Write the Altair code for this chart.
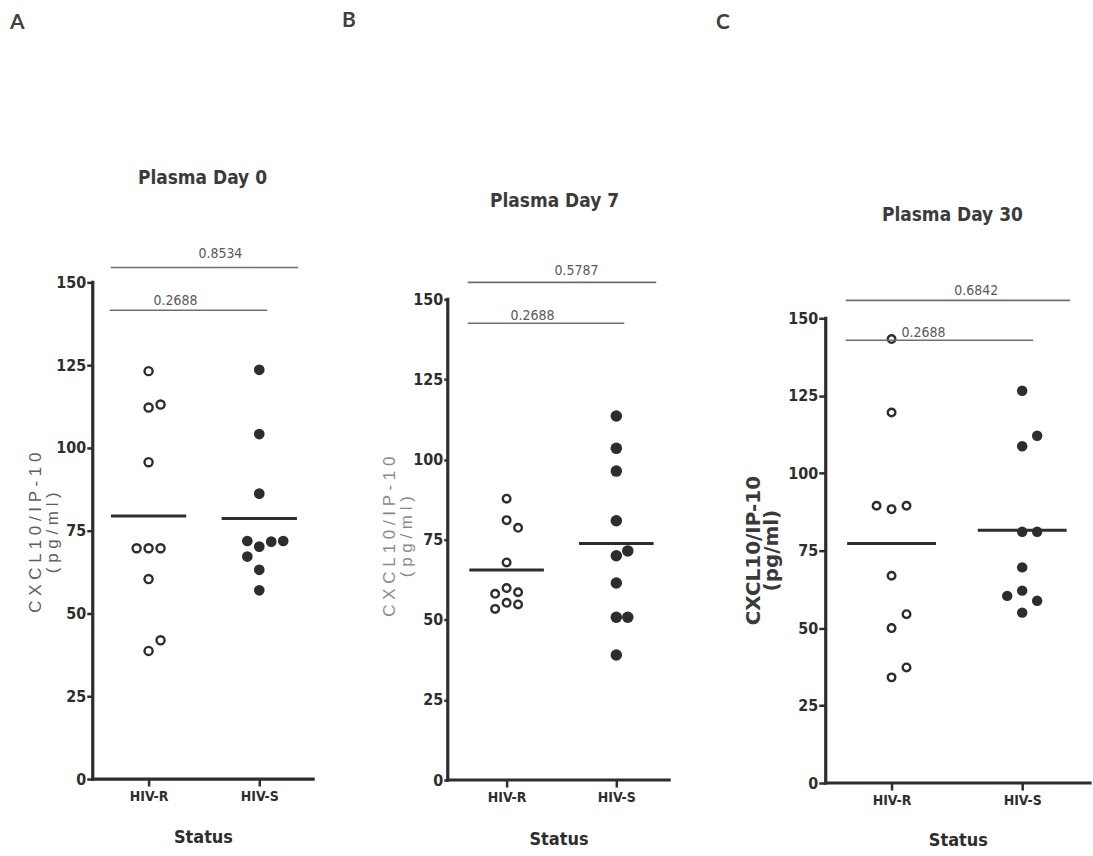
import altair as alt
import pandas as pd

# ---------------------------------------------------------------- data
groups = ["HIV-R", "HIV-S"]
panel_letters = ["A", "B", "C"]
panel_titles = ["Plasma Day 0", "Plasma Day 7", "Plasma Day 30"]

# CXCL10/IP-10 plasma levels (pg/ml), one value per subject
day0_hivr = [123.2, 112.2, 113.1, 95.7, 69.7, 69.7, 69.7, 60.4, 38.7, 41.9]
day0_hivs = [123.6, 104.2, 86.2, 70.2, 71.7, 71.9, 71.9, 67.2, 63.2, 57.0]
day7_hivr = [87.8, 81.1, 78.7, 67.9, 59.9, 58.6, 58.1, 55.3, 54.8, 53.4]
day7_hivs = [113.6, 103.5, 96.4, 80.9, 70.0, 71.5, 61.5, 50.8, 50.8, 39.0]
day30_hivr = [143.3, 119.6, 88.4, 89.5, 89.5, 66.9, 50.0, 54.5, 34.1, 37.3]
day30_hivs = [126.6, 108.7, 112.1, 81.1, 81.1, 69.6, 62.1, 58.8, 60.4, 55.0]

p_outer = ["0.8534", "0.5787", "0.6842"]
p_inner = ["0.2688", "0.2688", "0.2688"]
y_ticks = [0, 25, 50, 75, 100, 125, 150]

y_title_spaced = ["C X C L 1 0 / I P - 1 0", "( p g / m l )"]
y_title_plain = ["CXCL10/IP-10", "(pg/ml)"]

series = [(day0_hivr, day0_hivs), (day7_hivr, day7_hivs), (day30_hivr, day30_hivs)]

# ---------------------------------------------------------------- styling / geometry
NARROW = "DejaVu Sans Condensed, Liberation Sans Narrow, sans-serif"
LETTER_FONT = "Lato, Open Sans, sans-serif"
INK = "#2d2d2d"

# page geometry of each panel, in pixels
LAYOUT = [
    dict(left=92, right=448, zero=780, top=282, unit=111, origin=148, axis_end=313,
         dot_gap=12, tick=6, open_size=66, fill_size=115,
         outer=(110, 298, 267), inner=(109, 267, 310),
         outer_lbl=(220, 258), inner_lbl=(175, 305),
         title=(202, 177), letter=(9, 28), ytitle=(35, 52, 533),
         spaced=True, yfont="Liberation Sans, Arial, sans-serif",
         ycolor="#5e5e5e", yweight="normal", ysize=17, status_y=64),
    dict(left=448, right=827, zero=781, top=299, unit=110, origin=507, axis_end=670,
         dot_gap=11.5, tick=4, open_size=58, fill_size=133,
         outer=(468, 657, 282), inner=(468, 625, 323),
         outer_lbl=(577, 275), inner_lbl=(533, 320),
         title=(555, 200), letter=(342, 26), ytitle=(390, 407, 537),
         spaced=True, yfont="Liberation Sans, Arial, sans-serif",
         ycolor="#8a8a8a", yweight="normal", ysize=17, status_y=65),
    dict(left=827, right=1092, zero=784, top=318, unit=131, origin=893, axis_end=1092,
         dot_gap=15, tick=7, open_size=58, fill_size=110,
         outer=(847, 1072, 300), inner=(847, 1035, 340),
         outer_lbl=(978, 295), inner_lbl=(925, 337),
         title=(954, 214), letter=(717, 28), ytitle=(755, 773, 551),
         spaced=False, yfont="DejaVu Sans, sans-serif",
         ycolor="#3a3a3a", yweight="bold", ysize=20, status_y=63),
]


def dodge(values, px_per_unit, gap_px):
    """Greedy dot-plot placement: slot 0 if free, otherwise the nearest
    free side slot, preferring the side that holds fewer nearby dots."""
    placed, slots = [], []
    for v in values:
        near = [(pv, ps) for pv, ps in placed if abs(pv - v) * px_per_unit < 3 * gap_px]
        left = sum(1 for _, ps in near if ps < 0)
        right = sum(1 for _, ps in near if ps > 0)
        order = [0]
        for k in (1, 2, 3):
            order += [k, -k] if right <= left else [-k, k]
        chosen = order[-1]
        for s in order:
            if all(not (ps == s and abs(pv - v) * px_per_unit < gap_px) for pv, ps in placed):
                chosen = s
                break
        placed.append((v, chosen))
        slots.append(chosen)
    return slots


def panel(i):
    L = LAYOUT[i]
    sy = (L["zero"] - L["top"]) / 150.0
    fx = lambda px: (px - L["origin"]) / L["unit"]
    fy = lambda py: (L["zero"] - py) / sy
    x_min, x_max = fx(L["left"]), fx(L["right"])
    y_max = fy(0)
    width = L["right"] - L["left"]
    height = L["zero"]

    xs = alt.Scale(domain=[x_min, x_max], nice=False, zero=False)
    ys = alt.Scale(domain=[0, y_max], nice=False, zero=False)

    x_axis = alt.Axis(values=[0, 1], labelExpr=f"{groups!r}[datum.value]",
                      domain=False, grid=False, tickSize=7, tickWidth=2.5,
                      tickColor=INK, labelFont=NARROW, labelFontSize=14,
                      labelFontWeight="bold", labelColor=INK, labelPadding=4,
                      title="Status", titleFont=NARROW, titleFontSize=18,
                      titleFontWeight="bold", titleColor=INK,
                      titleX=(L["left"] + L["axis_end"]) / 2 - L["left"],
                      titleY=L["status_y"], titleBaseline="alphabetic")
    y_axis = alt.Axis(values=y_ticks, domain=False, grid=False, tickSize=L["tick"],
                      tickWidth=2.5, tickColor=INK, labelFont=NARROW,
                      labelFontSize=16, labelFontWeight="bold", labelColor=INK,
                      labelPadding=1, title=None)
    X = alt.X("x:Q", scale=xs, axis=x_axis)
    Y = alt.Y("y:Q", scale=ys, axis=y_axis)

    rows = []
    for g, vals in enumerate(series[i]):
        for v, s in zip(vals, dodge(vals, sy, L["dot_gap"])):
            rows.append(dict(g=g, group=groups[g], y=v,
                             x=g + s * L["dot_gap"] / L["unit"]))
    pts = pd.DataFrame(rows)

    base = alt.Chart(pts)
    hivr = base.transform_filter("datum.g == 0").mark_point(
        shape="circle", filled=False, strokeWidth=2.4, color=INK, opacity=1,
        size=L["open_size"]).encode(x=X, y=Y)
    hivs = base.transform_filter("datum.g == 1").mark_circle(
        color=INK, opacity=1, size=L["fill_size"]).encode(x=X, y=Y)

    # group means
    means = base.transform_aggregate(y="mean(y)", groupby=["g"]).transform_calculate(
        x="datum.g - 0.34", x2="datum.g + 0.34").mark_rule(
        color=INK, strokeWidth=3).encode(x=X, x2="x2:Q", y=Y)

    # axis lines (0-150 on y, baseline on x)
    axes_df = pd.DataFrame([
        dict(x=x_min, x2=x_min, y=0, y2=150),
        dict(x=x_min, x2=fx(L["axis_end"]), y=0, y2=0),
    ])
    axes = alt.Chart(axes_df).mark_rule(color=INK, strokeWidth=3.2, strokeCap="square").encode(
        x=X, x2="x2:Q", y=Y, y2="y2:Q")

    # comparison brackets with their p-values
    br_df = pd.DataFrame([
        dict(x=fx(L["outer"][0]), x2=fx(L["outer"][1]), y=fy(L["outer"][2])),
        dict(x=fx(L["inner"][0]), x2=fx(L["inner"][1]), y=fy(L["inner"][2])),
    ])
    brackets = alt.Chart(br_df).mark_rule(color="#6e6e6e", strokeWidth=1.6).encode(
        x=X, x2="x2:Q", y=Y)
    lbl_df = pd.DataFrame([
        dict(x=fx(L["outer_lbl"][0]), y=fy(L["outer_lbl"][1]), t=p_outer[i]),
        dict(x=fx(L["inner_lbl"][0]), y=fy(L["inner_lbl"][1]), t=p_inner[i]),
    ])
    p_labels = alt.Chart(lbl_df).mark_text(
        font=NARROW, fontSize=14, color="#5a5a5a", align="center",
        baseline="alphabetic").encode(x=X, y=Y, text="t:N")

    # panel title and letter
    ttl_df = pd.DataFrame([dict(x=fx(L["title"][0]), y=fy(L["title"][1]), t=panel_titles[i])])
    title = alt.Chart(ttl_df).mark_text(
        font=NARROW, fontSize=19, fontWeight="bold", color="#3b3b3b",
        align="center", baseline="middle").encode(x=X, y=Y, text="t:N")
    let_df = pd.DataFrame([dict(x=fx(L["letter"][0]), y=fy(L["letter"][1]), t=panel_letters[i])])
    letter = alt.Chart(let_df).mark_text(
        font=LETTER_FONT, fontSize=21, fontWeight="bold", color="#404040",
        align="left", baseline="alphabetic").encode(x=X, y=Y, text="t:N")

    # rotated two-line y title
    lines = y_title_spaced if L["spaced"] else y_title_plain
    yt_df = pd.DataFrame([
        dict(x=fx(L["ytitle"][0]), y=fy(L["ytitle"][2]), t=lines[0]),
        dict(x=fx(L["ytitle"][1]), y=fy(L["ytitle"][2]), t=lines[1]),
    ])
    ytitle = alt.Chart(yt_df).mark_text(
        font=L["yfont"], fontSize=L["ysize"], fontWeight=L["yweight"],
        color=L["ycolor"], angle=270, align="center", baseline="middle").encode(
        x=X, y=Y, text="t:N")

    return alt.layer(hivr, hivs, means, axes, brackets, p_labels, title, letter, ytitle).properties(
        width=width, height=height)


chart = alt.hconcat(panel(0), panel(1), panel(2), spacing=0, bounds="flush").properties(
    padding={"left": 9, "top": 0, "right": 0, "bottom": 0},
    background="white",
).configure_view(stroke=None)

chart.save("out.html", embed_options={"renderer": "svg", "actions": False})
